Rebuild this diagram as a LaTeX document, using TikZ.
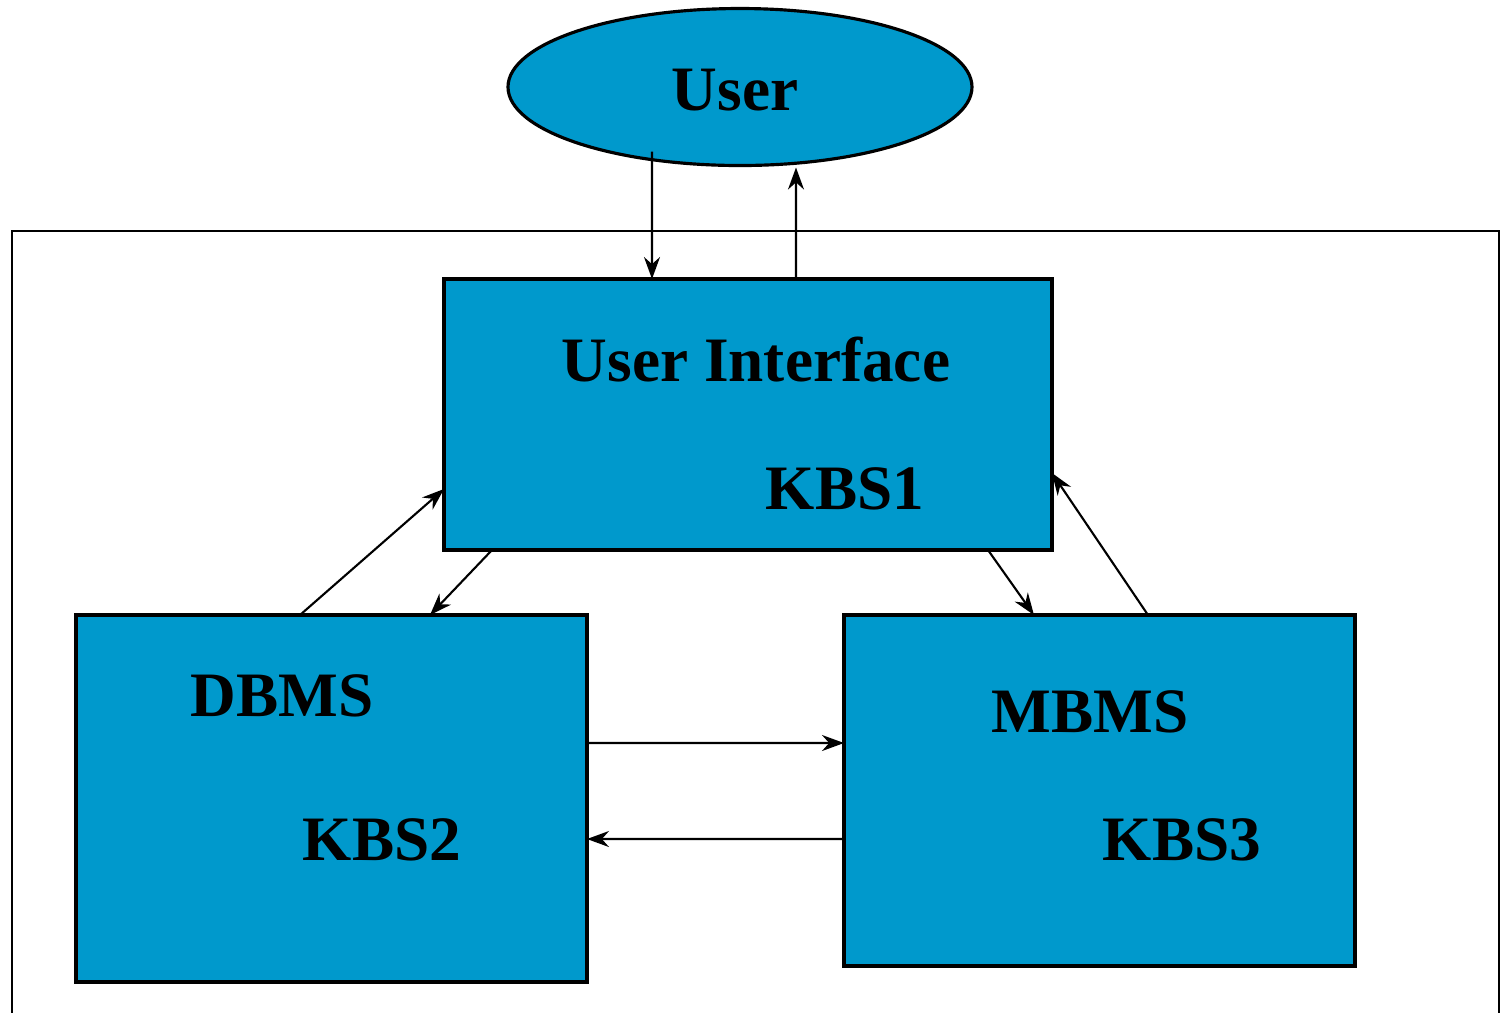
\documentclass[tikz,border=0pt]{standalone}
\usepackage{fontspec}
\setmainfont{Liberation Serif}
\usepackage{xcolor}
\definecolor{kbsblue}{RGB}{0,153,204}
\usetikzlibrary{arrows.meta,positioning,shapes.geometric,calc}

\begin{document}
\begin{tikzpicture}[
    box/.style={draw,line width=0.9pt,fill=kbsblue,inner sep=0pt,outer sep=0pt},
    lbl/.style={anchor=base,font=\fontsize{18}{20}\selectfont\bfseries},
    arr/.style={-{Stealth[length=2.2mm,width=1.6mm]},line width=0.6pt}]
  \useasboundingbox (0,0) rectangle (15,-10.12);
  % System frame (open at the bottom)
  \draw[line width=0.7pt] (0.12,-10.2) -- (0.12,-2.31) -- (14.99,-2.31) -- (14.99,-10.2);
  % User
  \node[box,ellipse,minimum width=4.64cm,minimum height=1.57cm] (user) at (7.40,-0.87) {};
  \node[lbl] (userlbl) at (7.35,-1.10) {User};
  % Knowledge based subsystems
  \node[box,minimum width=6.08cm,minimum height=2.71cm] (ui) at (7.48,-4.145) {};
  \node[box,minimum width=5.11cm,minimum height=3.67cm] (dbms) at (3.315,-7.985) {};
  \node[box,minimum width=5.11cm,minimum height=3.51cm] (mbms) at (10.995,-7.905) {};
  \node[lbl] (uilbl) at (7.56,-3.81) {User Interface};
  \node[lbl] (kbs1) at (8.45,-5.09) {KBS1};
  \node[lbl] (dbmslbl) at (2.82,-7.16) {DBMS};
  \node[lbl] (kbs2) at (3.82,-8.60) {KBS2};
  \node[lbl] (mbmslbl) at (10.90,-7.32) {MBMS};
  \node[lbl] (kbs3) at (11.82,-8.60) {KBS3};
  % User <-> interface
  \draw[arr] ($(user.south)+(-0.88,0.14)$) -- ($(ui.north west)+(2.08,0)$);
  \draw[arr] ($(ui.north west)+(3.52,0)$) -- ($(user.south)+(0.56,-0.02)$);
  % Interface <-> DBMS
  \draw[arr] ($(dbms.north west)+(2.24,0)$) -- ($(ui.north west)+(0,-2.10)$);
  \draw[arr] ($(ui.south west)+(0.48,0)$) -- ($(dbms.north west)+(3.54,0)$);
  % Interface <-> MBMS
  \draw[arr] ($(ui.south east)+(-0.64,0)$) -- ($(mbms.north west)+(1.90,0)$);
  \draw[arr] ($(mbms.north west)+(3.04,0)$) -- ($(ui.north east)+(0,-1.94)$);
  % DBMS <-> MBMS
  \draw[arr] ($(dbms.north east)+(0,-1.28)$) -- ($(mbms.north west)+(0,-1.28)$);
  \draw[arr] ($(mbms.north west)+(0,-2.24)$) -- ($(dbms.north east)+(0,-2.24)$);
\end{tikzpicture}
\end{document}
